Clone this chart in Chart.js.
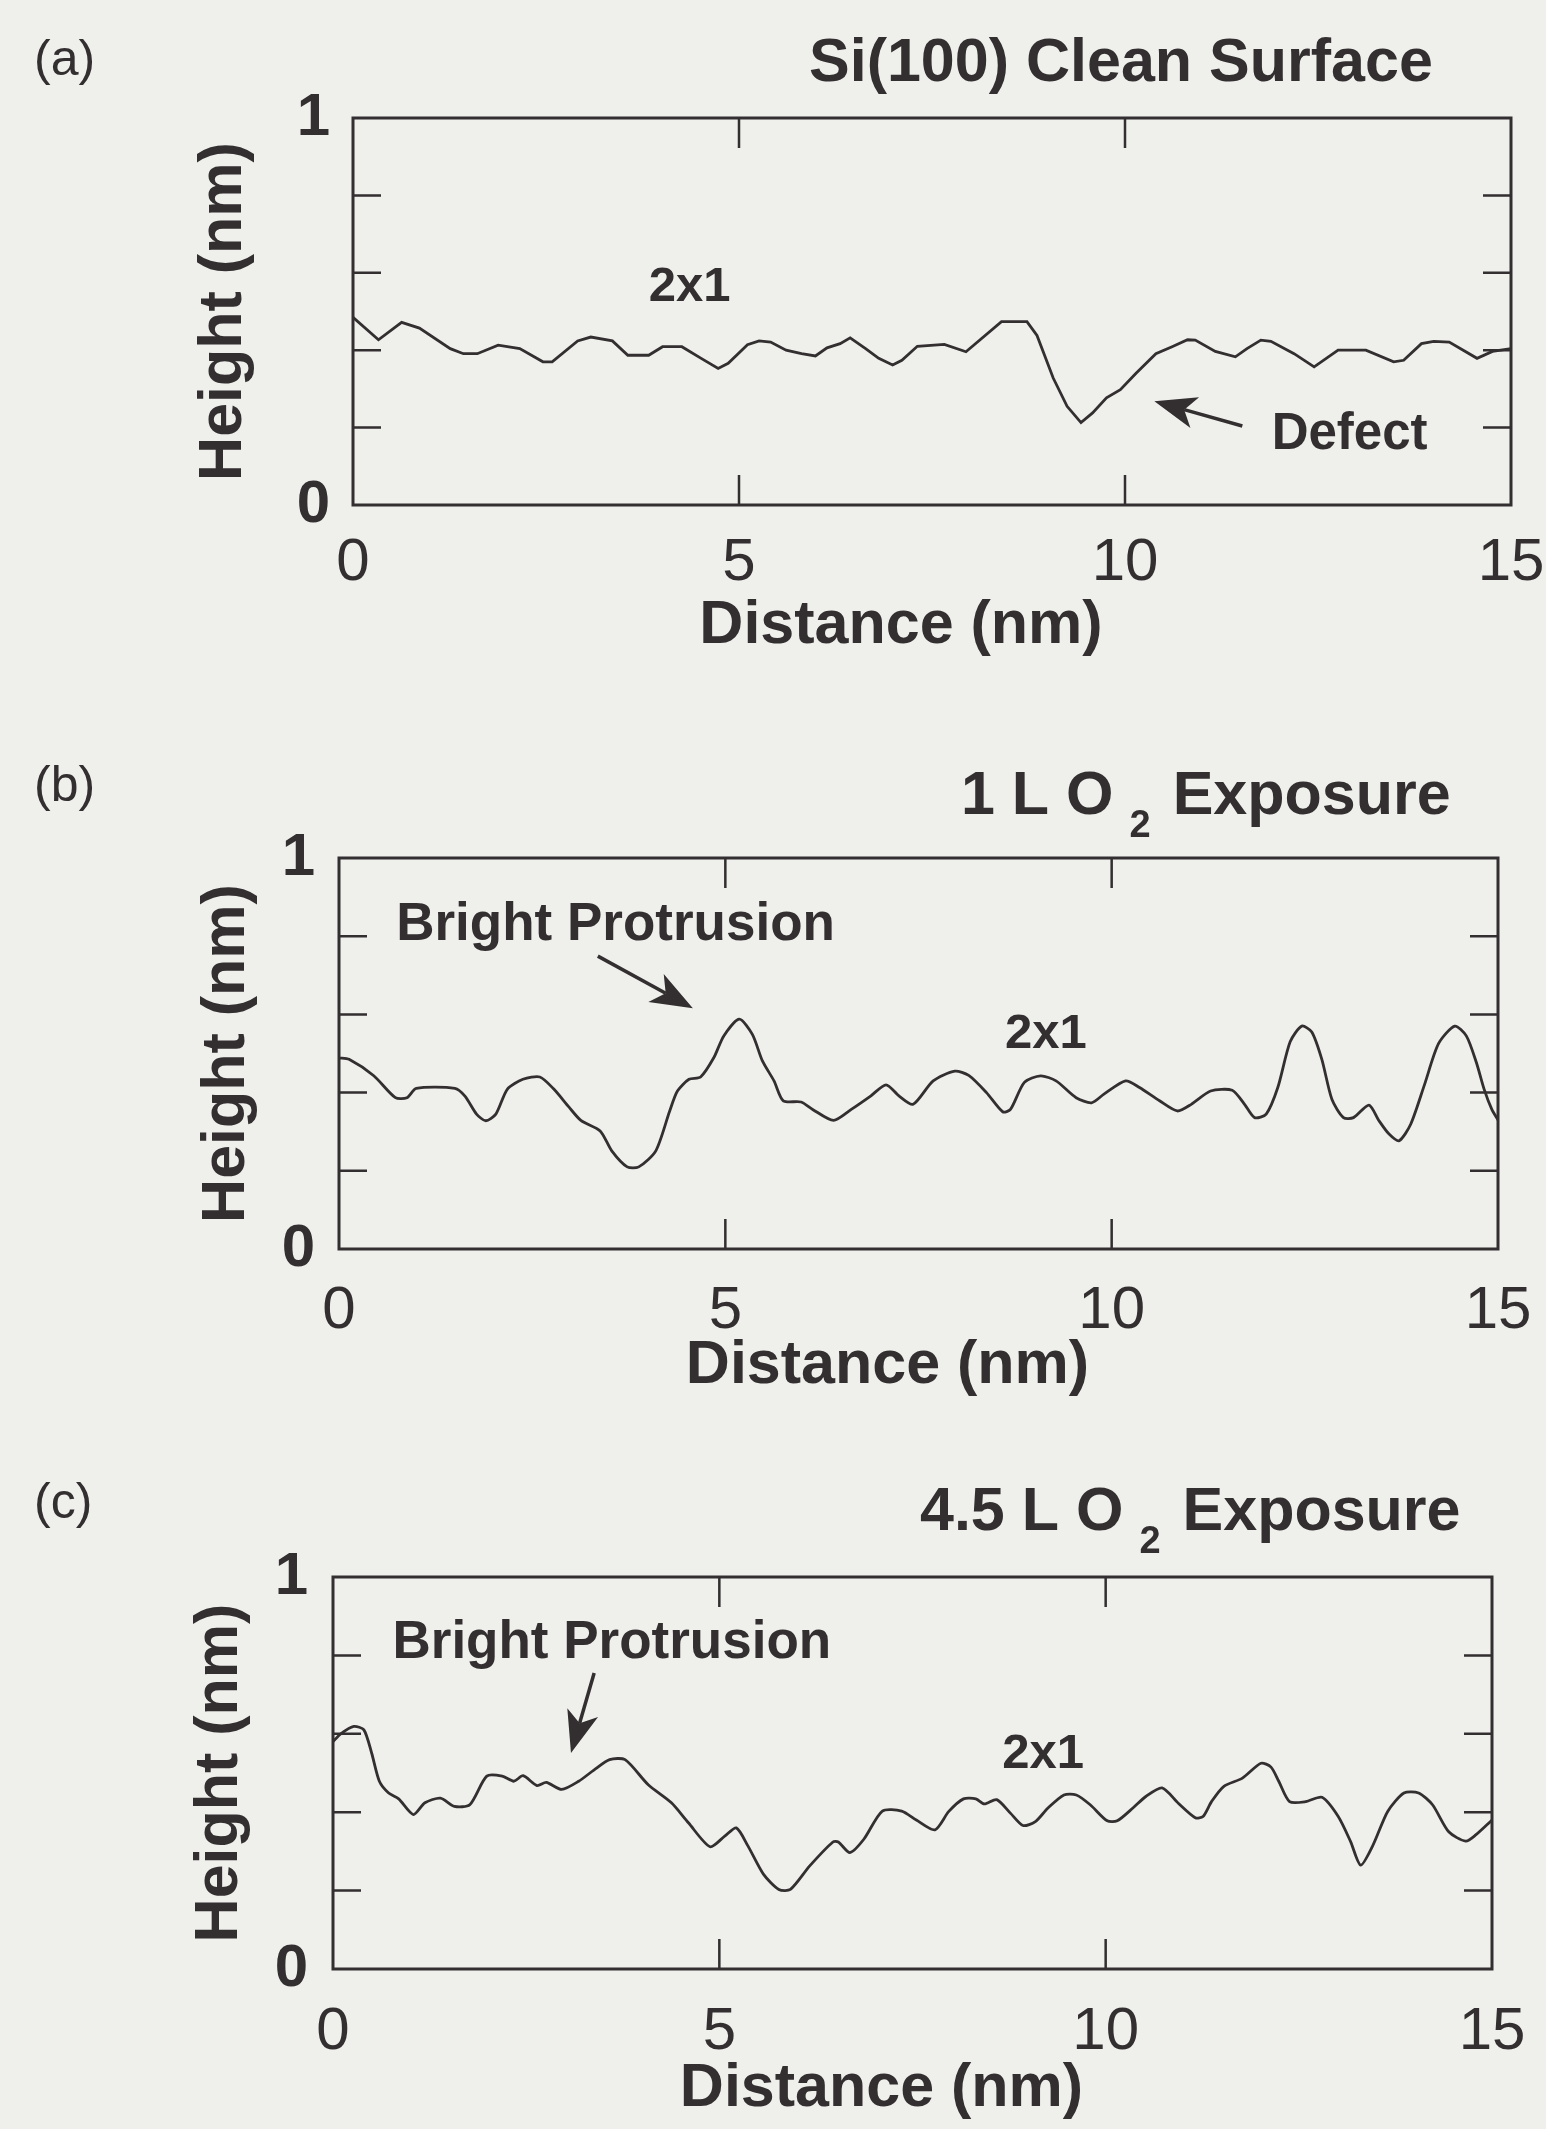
<!DOCTYPE html>
<html><head><meta charset="utf-8">
<script src="https://cdn.jsdelivr.net/npm/chart.js@4.4.1/dist/chart.umd.min.js"></script>
<style>
html,body{margin:0;padding:0;background:#efefec;}
body{width:1546px;height:2129px;position:relative;overflow:hidden;}
canvas{position:absolute;left:0;}
</style></head><body>
<canvas id="ca" style="top:0px" width="1546" height="700"></canvas>
<canvas id="cb" style="top:700px" width="1546" height="720"></canvas>
<canvas id="cc" style="top:1420px" width="1546" height="709"></canvas>
<script>
// ---- data ----
const xTicks = [0, 5, 10, 15];
const yTickLabels = ['0', '1'];
const xTitle = 'Distance (nm)';
const yTitle = 'Height (nm)';
const panelLabels = ['(a)', '(b)', '(c)'];

const aX = [0,0.33,0.63,0.86,1.26,1.43,1.61,1.88,2.16,2.46,2.58,2.91,3.08,3.36,3.56,3.83,4.01,4.26,4.51,4.73,4.86,5.11,5.26,5.41,5.61,5.81,5.99,6.14,6.31,6.44,6.64,6.81,6.99,7.11,7.31,7.66,7.94,8.40,8.73,8.86,9.07,9.25,9.43,9.58,9.76,9.94,10.14,10.40,10.61,10.81,10.91,11.17,11.43,11.58,11.76,11.89,12.19,12.45,12.76,13.12,13.48,13.61,13.84,14.00,14.20,14.56,14.76,15.0];
const aY = [0.485,0.427,0.472,0.457,0.404,0.391,0.391,0.413,0.404,0.370,0.370,0.424,0.434,0.424,0.387,0.387,0.409,0.409,0.379,0.353,0.366,0.414,0.424,0.421,0.400,0.391,0.385,0.406,0.417,0.432,0.404,0.379,0.362,0.374,0.410,0.415,0.396,0.474,0.474,0.438,0.328,0.255,0.213,0.238,0.277,0.298,0.340,0.391,0.409,0.427,0.426,0.397,0.383,0.404,0.426,0.423,0.391,0.357,0.400,0.400,0.370,0.374,0.417,0.423,0.421,0.379,0.397,0.404];

const bX = [0,0.13,0.45,0.73,0.88,1.0,1.5,1.63,1.78,1.90,2.03,2.18,2.38,2.60,2.78,2.98,3.13,3.38,3.53,3.73,3.88,4.10,4.28,4.38,4.53,4.68,4.85,4.98,5.18,5.35,5.48,5.63,5.75,5.98,6.13,6.40,6.63,6.88,7.08,7.25,7.43,7.69,7.97,8.15,8.38,8.59,8.69,8.87,9.08,9.28,9.54,9.74,9.90,10.18,10.36,10.62,10.85,11.03,11.28,11.56,11.72,11.85,12.0,12.15,12.31,12.46,12.59,12.72,12.85,13.0,13.13,13.33,13.46,13.59,13.72,13.87,14.05,14.23,14.44,14.59,14.72,14.82,14.92,15.0];
const bY = [0.489,0.485,0.443,0.387,0.387,0.411,0.411,0.391,0.345,0.328,0.345,0.409,0.434,0.440,0.409,0.362,0.329,0.302,0.251,0.210,0.210,0.251,0.353,0.404,0.434,0.440,0.489,0.545,0.588,0.549,0.481,0.430,0.379,0.376,0.357,0.329,0.357,0.391,0.420,0.391,0.370,0.430,0.455,0.444,0.400,0.351,0.357,0.426,0.443,0.430,0.387,0.374,0.396,0.430,0.413,0.379,0.353,0.370,0.404,0.406,0.370,0.336,0.345,0.413,0.530,0.570,0.555,0.485,0.383,0.336,0.336,0.368,0.328,0.294,0.277,0.319,0.421,0.525,0.570,0.545,0.477,0.409,0.357,0.330];

const cX = [0,0.1,0.27,0.40,0.50,0.60,0.72,0.85,1.04,1.19,1.39,1.57,1.77,1.99,2.19,2.34,2.46,2.64,2.76,2.96,3.18,3.38,3.58,3.78,4.08,4.38,4.60,4.88,5.07,5.22,5.37,5.57,5.77,5.92,6.17,6.47,6.54,6.69,6.87,7.11,7.36,7.55,7.79,7.97,8.16,8.32,8.43,8.59,8.77,8.93,9.09,9.25,9.46,9.62,9.80,10.02,10.15,10.36,10.52,10.73,10.94,11.16,11.26,11.37,11.53,11.77,12.01,12.14,12.24,12.38,12.59,12.80,13.01,13.17,13.30,13.46,13.65,13.86,14.05,14.23,14.44,14.66,14.79,15.0];
const cY = [0.580,0.600,0.619,0.610,0.551,0.479,0.449,0.434,0.394,0.424,0.436,0.415,0.419,0.492,0.492,0.479,0.493,0.468,0.476,0.458,0.479,0.508,0.534,0.534,0.470,0.424,0.373,0.312,0.339,0.360,0.314,0.242,0.203,0.203,0.263,0.324,0.324,0.297,0.331,0.403,0.403,0.380,0.355,0.402,0.434,0.434,0.421,0.432,0.397,0.366,0.376,0.410,0.444,0.444,0.419,0.378,0.378,0.412,0.440,0.462,0.423,0.386,0.389,0.427,0.466,0.487,0.525,0.515,0.479,0.427,0.427,0.438,0.389,0.325,0.265,0.316,0.402,0.449,0.449,0.419,0.350,0.326,0.342,0.380];

// annotations: text, anchor in data units (x nm, y nm)
const annA = [{text:'2x1', x:3.83, y:0.527}, {text:'Defect', x:11.9, y:0.145}];
const annB = [{text:'Bright Protrusion', x:0.74, y:0.79}, {text:'2x1', x:8.62, y:0.514}];
const annC = [{text:'Bright Protrusion', x:0.77, y:0.793}, {text:'2x1', x:8.66, y:0.513}];
const arrowA = {from:[11.52,0.204], to:[10.38,0.268]};
const arrowB = {from:[3.35,0.749], to:[4.58,0.616]};
const arrowC = {from:[3.38,0.755], to:[3.08,0.551]};
const titleA = [{t:'Si(100) Clean Surface'}];
const titleB = [{t:'1 L O'}, {t:'2', sub:true}, {t:'Exposure'}];
const titleC = [{t:'4.5 L O'}, {t:'2', sub:true}, {t:'Exposure'}];

// ---- drawing ----
const INK = '#332e30';
const FAM = '"Liberation Sans", Arial, Helvetica, sans-serif';

function arrow(ctx, x1, y1, x2, y2) {
  const ang = Math.atan2(y2 - y1, x2 - x1);
  const L = 42, W = 16, N = 31;
  const ux = Math.cos(ang), uy = Math.sin(ang);
  const bx = x2 - ux * N, by = y2 - uy * N;
  ctx.beginPath(); ctx.moveTo(x1, y1); ctx.lineTo(bx, by);
  ctx.lineWidth = 3.5; ctx.strokeStyle = INK; ctx.stroke();
  ctx.beginPath();
  ctx.moveTo(x2, y2);
  ctx.lineTo(x2 - ux * L - uy * W, y2 - uy * L + ux * W);
  ctx.lineTo(bx, by);
  ctx.lineTo(x2 - ux * L + uy * W, y2 - uy * L - ux * W);
  ctx.closePath(); ctx.fillStyle = INK; ctx.fill();
}

function makeDecor(cfg) {
  return {
    id: 'decor',
    afterDraw(chart) {
      const ctx = chart.ctx, a = chart.chartArea;
      const sx = chart.scales.x, sy = chart.scales.y;
      ctx.save();
      ctx.strokeStyle = INK; ctx.lineWidth = 3;
      ctx.strokeRect(a.left, a.top, a.right - a.left, a.bottom - a.top);
      ctx.lineWidth = 2.5;
      [0.2, 0.4, 0.6, 0.8].forEach(v => {
        const y = sy.getPixelForValue(v);
        ctx.beginPath(); ctx.moveTo(a.left, y); ctx.lineTo(a.left + 28, y);
        ctx.moveTo(a.right, y); ctx.lineTo(a.right - 28, y); ctx.stroke();
      });
      [5, 10].forEach(v => {
        const x = sx.getPixelForValue(v);
        ctx.beginPath(); ctx.moveTo(x, a.top); ctx.lineTo(x, a.top + 30);
        ctx.moveTo(x, a.bottom); ctx.lineTo(x, a.bottom - 30); ctx.stroke();
      });
      ctx.fillStyle = INK;
      ctx.font = '50px ' + FAM; ctx.textBaseline = 'middle'; ctx.textAlign = 'left';
      ctx.fillText(cfg.label, 34, cfg.labelY);
      ctx.textBaseline = 'alphabetic';
      let x = cfg.titleX;
      cfg.title.forEach(seg => {
        if (seg.sub) {
          ctx.font = 'bold 38px ' + FAM;
          x += 16;
          ctx.fillText(seg.t, x, cfg.titleY + 23);
          x += ctx.measureText(seg.t).width + 22;
        } else {
          ctx.font = 'bold 61px ' + FAM;
          ctx.fillText(seg.t, x, cfg.titleY);
          x += ctx.measureText(seg.t).width;
        }
      });
      cfg.ann.forEach(an => {
        ctx.font = 'bold ' + (an.text === '2x1' ? 49 : (an.text === 'Defect' ? 51 : 53)) + 'px ' + FAM;
        ctx.fillText(an.text, sx.getPixelForValue(an.x), sy.getPixelForValue(an.y));
      });
      const ar = cfg.arrow;
      arrow(ctx, sx.getPixelForValue(ar.from[0]), sy.getPixelForValue(ar.from[1]),
                 sx.getPixelForValue(ar.to[0]), sy.getPixelForValue(ar.to[1]));
      ctx.restore();
    }
  };
}

function makeChart(id, xs, ys, cfg) {
  const pts = xs.map((x, i) => ({x: x, y: ys[i]}));
  return new Chart(document.getElementById(id), {
    type: 'line',
    data: {datasets: [{data: pts, borderColor: INK, borderWidth: 2.8, pointRadius: 0,
                       tension: cfg.tension, fill: false}]},
    options: {
      responsive: false, animation: false, devicePixelRatio: 1,
      layout: {padding: {left: 0, right: cfg.padR, top: cfg.padT, bottom: 0}},
      plugins: {legend: {display: false}, tooltip: {enabled: false}},
      scales: {
        x: {type: 'linear', min: 0, max: 15,
            afterBuildTicks: s => { s.ticks = xTicks.map(v => ({value: v})); },
            ticks: {padding: cfg.xTickPad, color: INK, font: {family: FAM, size: 60},
                    maxRotation: 0, autoSkip: false},
            grid: {display: false, drawTicks: false}, border: {display: false},
            title: {display: true, text: xTitle, color: INK,
                    font: {family: FAM, size: 61, weight: 'bold'},
                    padding: {top: 0, bottom: cfg.xTitlePad}},
            afterFit: s => { s.height = cfg.xH; s.paddingLeft = 0; s.paddingRight = 0; },
            afterUpdate: s => {
              if (!s._shifted) {
                const orig = Object.getPrototypeOf(s).drawTitle;
                s.drawTitle = function () {
                  this.ctx.save(); this.ctx.translate(-31, 0);
                  orig.call(this); this.ctx.restore();
                };
                s._shifted = true;
              }
            }},
        y: {type: 'linear', min: 0, max: 1,
            ticks: {stepSize: 0.2, padding: cfg.yTickPad, color: INK,
                    font: {family: FAM, size: 60, weight: 'bold'},
                    callback: v => { const r = Math.round(v); return Math.abs(v - r) < 1e-6 && yTickLabels.includes(String(r)) ? String(r) : ''; }},
            grid: {display: false, drawTicks: false}, border: {display: false},
            title: {display: true, text: yTitle, color: INK,
                    font: {family: FAM, size: 61, weight: 'bold'},
                    padding: {top: cfg.yTitlePad, bottom: 0}},
            afterFit: s => { s.width = cfg.yW; }}
      }
    },
    plugins: [makeDecor(cfg)]
  });
}

makeChart('ca', aX, aY, {tension: 0, padR: 35, padT: 118, xH: 195, yW: 353,
  xTickPad: 22, xTitlePad: 37, yTickPad: 23, yTitlePad: 188,
  label: panelLabels[0], labelY: 61, title: titleA, titleX: 809, titleY: 81,
  ann: annA, arrow: arrowA});
makeChart('cb', bX, bY, {tension: 0.25, padR: 48, padT: 158, xH: 171, yW: 339,
  xTickPad: 26, xTitlePad: 17, yTickPad: 24, yTitlePad: 191,
  label: panelLabels[1], labelY: 87, title: titleB, titleX: 961, titleY: 114,
  ann: annB, arrow: arrowB});
makeChart('cc', cX, cY, {tension: 0.25, padR: 54, padT: 157, xH: 160, yW: 333,
  xTickPad: 27, xTitlePad: 3, yTickPad: 25, yTitlePad: 184,
  label: panelLabels[2], labelY: 84, title: titleC, titleX: 920, titleY: 110,
  ann: annC, arrow: arrowC});
</script>
</body></html>
